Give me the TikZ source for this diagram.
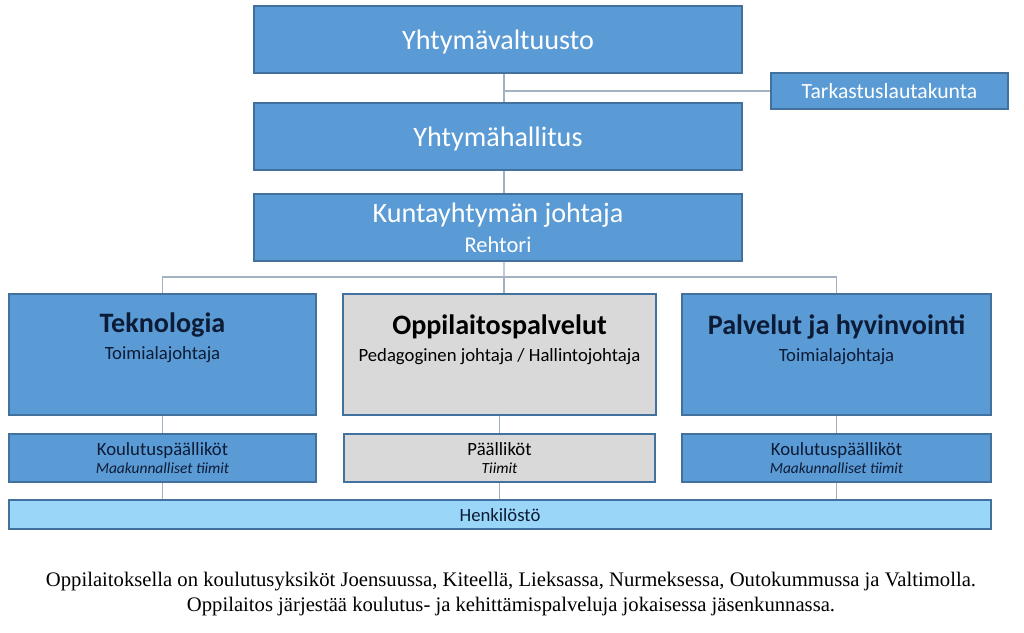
\documentclass[tikz,border=0pt]{standalone}
\usepackage{fontspec}
\setmainfont{Carlito}
\newfontfamily\notefont{Liberation Serif}
\usetikzlibrary{positioning}

\definecolor{boxblue}{HTML}{5B9BD5}
\definecolor{boxedge}{HTML}{41719C}
\definecolor{boxgray}{HTML}{D9D9D9}
\definecolor{staffblue}{HTML}{9AD6F8}
\definecolor{linkgray}{HTML}{A3B1C2}
\definecolor{navytxt}{HTML}{0C1B36}

\tikzset{
  orgbox/.style={draw=boxedge, fill=boxblue, line width=1pt, inner sep=0pt, align=center,
    text depth=0pt},
  topbox/.style={orgbox, text=white, minimum width=12.2cm, minimum height=1.675cm,
    font=\fontsize{20}{24}\selectfont},
  unitbox/.style={orgbox, minimum height=3.025cm},
  teambox/.style={orgbox, text=navytxt, minimum height=1.2cm,
    font=\fontsize{13.3}{14}\selectfont},
  unithead/.style={text=navytxt, align=center, font=\fontsize{13.3}{19}\selectfont},
  link/.style={draw=linkgray, line width=0.8pt},
}

\begin{document}
\begin{tikzpicture}[x=0.025cm, y=-0.025cm]
    \useasboundingbox[fill=white] (0,0) rectangle (1024,632);

    % ---- governance chain ----
    \node[topbox] (valt) at (498,39.5) {Yhtymävaltuusto};
    \node[topbox] (hall) at (498,136.5) {Yhtymähallitus};
    \node[topbox] (kunta) at (498,227.5)
        {Kuntayhtymän johtaja\\[-3pt]{\fontsize{16}{18}\selectfont Rehtori}};
    \node[orgbox, text=white, minimum width=5.925cm, minimum height=0.9cm,
        font=\fontsize{15.4}{18}\selectfont] (tark) at (889.5,91) {Tarkastuslautakunta};

    \coordinate (ax) at (504,91);
    \coordinate (bus) at (504,277);

    % ---- units ----
    \node[unitbox, minimum width=7.675cm] (tek) at (162.5,354.5) {};
    \node[unitbox, fill=boxgray, minimum width=7.825cm] (opp) at (499.5,354.5) {};
    \node[unitbox, minimum width=7.725cm] (palv) at (836.5,354.5) {};

    \node[unithead] (tekT) at (162.5,338)
        {{\fontsize{20}{20}\selectfont\bfseries Teknologia}\\Toimialajohtaja};
    \node[unithead, text=black] (oppT) at (499.5,340)
        {{\fontsize{20}{20}\selectfont\bfseries Oppilaitospalvelut}\\Pedagoginen johtaja / Hallintojohtaja};
    \node[unithead] (palvT) at (836.5,340)
        {{\fontsize{20}{20}\selectfont\bfseries Palvelut ja hyvinvointi}\\Toimialajohtaja};

    % ---- teams ----
    \node[teambox, text depth=-4pt, minimum width=7.675cm] (tekK) at (162.5,458)
        {Koulutuspäälliköt\\[-0.5pt]{\fontsize{11}{12}\selectfont\itshape Maakunnalliset tiimit}};
    \node[teambox, text depth=-4pt, fill=boxgray, text=black, minimum width=7.775cm] (oppK) at (499.5,458)
        {Päälliköt\\[-0.5pt]{\fontsize{11}{12}\selectfont\itshape Tiimit}};
    \node[teambox, text depth=-4pt, minimum width=7.725cm] (palvK) at (836.5,458)
        {Koulutuspäälliköt\\[-0.5pt]{\fontsize{11}{12}\selectfont\itshape Maakunnalliset tiimit}};

    \node[teambox, fill=staffblue, minimum width=24.55cm, minimum height=0.725cm]
        (henk) at (500,514.5) {Henkilöstö};

    % ---- connectors ----
    \draw[link] ([xshift=4.25pt]valt.south) -- ([xshift=4.25pt]hall.north);
    \draw[link] (ax) -- (tark.west);
    \draw[link] ([xshift=4.25pt]hall.south) -- ([xshift=4.25pt]kunta.north);
    \draw[link] ([xshift=4.25pt]kunta.south) -- (bus);
    \draw[link] (tek.north) |- (bus) -| (palv.north);
    \draw[link] (bus) -- (bus |- opp.north);
    \foreach \u in {tek, opp, palv} {
        \draw[link] (\u.south) -- (\u K.north);
        \draw[link] (\u K.south) -- (\u K.south |- henk.north);
    }

    % ---- note ----
    \node[align=center, font=\notefont\fontsize{14.7}{18.4}\selectfont] (note) at (511,594)
        {Oppilaitoksella on koulutusyksiköt Joensuussa, Kiteellä, Lieksassa, Nurmeksessa, Outokummussa ja Valtimolla.\\
         Oppilaitos järjestää koulutus- ja kehittämispalveluja jokaisessa jäsenkunnassa.};

\end{tikzpicture}
\end{document}
